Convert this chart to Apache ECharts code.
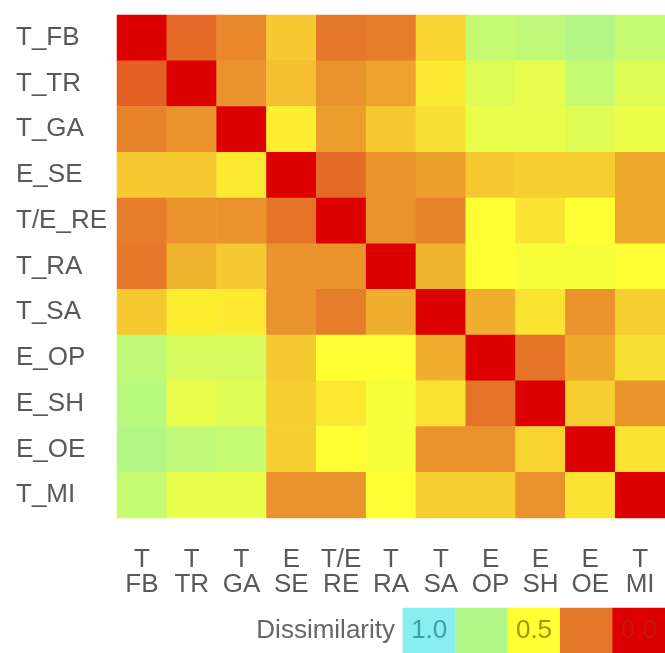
<!DOCTYPE html>
<html>
<head>
<meta charset="utf-8">
<script src="https://cdn.jsdelivr.net/npm/echarts@6/dist/echarts.min.js"></script>
<style>
html,body{margin:0;padding:0;background:#fff;}
#chart{width:665px;height:653px;}
</style>
</head>
<body>
<div id="chart"></div>
<script>
// Row / column categories
const rowLabels = ['T_FB','T_TR','T_GA','E_SE','T/E_RE','T_RA','T_SA','E_OP','E_SH','E_OE','T_MI'];
const colTop    = ['T','T','T','E','T/E','T','T','E','E','E','T'];
const colBottom = ['FB','TR','GA','SE','RE','RA','SA','OP','SH','OE','MI'];

// Dissimilarity values, one array per row (columns FB..MI)
const row_T_FB  = [0.00,0.22,0.28,0.40,0.25,0.26,0.42,0.68,0.70,0.74,0.68];
const row_T_TR  = [0.20,0.00,0.30,0.38,0.30,0.33,0.46,0.60,0.58,0.68,0.60];
const row_T_GA  = [0.27,0.30,0.00,0.47,0.32,0.40,0.44,0.57,0.57,0.60,0.56];
const row_E_SE  = [0.40,0.40,0.46,0.00,0.22,0.30,0.32,0.40,0.41,0.41,0.34];
const row_TE_RE = [0.26,0.30,0.30,0.24,0.00,0.30,0.27,0.50,0.45,0.50,0.34];
const row_T_RA  = [0.25,0.36,0.40,0.30,0.30,0.00,0.36,0.50,0.52,0.52,0.50];
const row_T_SA  = [0.40,0.47,0.46,0.30,0.26,0.35,0.00,0.35,0.45,0.30,0.41];
const row_E_OP  = [0.70,0.63,0.63,0.40,0.50,0.50,0.35,0.00,0.24,0.34,0.44];
const row_E_SH  = [0.72,0.57,0.60,0.41,0.46,0.52,0.45,0.24,0.00,0.41,0.30];
const row_E_OE  = [0.74,0.70,0.68,0.41,0.50,0.52,0.30,0.30,0.42,0.00,0.45];
const row_T_MI  = [0.68,0.57,0.57,0.30,0.30,0.50,0.41,0.41,0.30,0.45,0.00];
const matrixRows = [row_T_FB,row_T_TR,row_T_GA,row_E_SE,row_TE_RE,row_T_RA,row_T_SA,row_E_OP,row_E_SH,row_E_OE,row_T_MI];

// Legend (colour key)
const legendTitle  = 'Dissimilarity';
const legendValues = [1.0, 0.75, 0.5, 0.25, 0.0];
const legendLabels = ['1.0', '', '0.5', '', '0.0'];
const legendLabelColors = ['#3f9ea6', '#000', '#9a9a00', '#000', '#c81414'];

const scaleColors = ['#dd0000', '#e5782a', '#ffff33', '#b0f888', '#88eef0'];

const heatData = [];
matrixRows.forEach((row, y) => row.forEach((v, x) => heatData.push([x, y, v])));

const legendData = legendValues.map((v, i) => ({
  value: [i, 0, v],
  label: { formatter: legendLabels[i], color: legendLabelColors[i] }
}));

const FONT = 'Liberation Sans';
const chart = echarts.init(document.getElementById('chart'));
chart.setOption({
  animation: false,
  backgroundColor: '#fff',
  grid: [
    { left: 117, right: 0, top: 15, bottom: 135 },
    { left: 403, right: 0, top: 608, height: 45 }
  ],
  xAxis: [
    {
      type: 'category', gridIndex: 0,
      data: colBottom.map((b, i) => colTop[i] + '\n' + b),
      axisLine: { show: false }, axisTick: { show: false }, splitLine: { show: false },
      axisLabel: { color: '#595959', fontFamily: FONT, fontSize: 26, lineHeight: 25, margin: 29, interval: 0 }
    },
    {
      type: 'category', gridIndex: 1, data: legendLabels.map((l, i) => 'k' + i),
      axisLine: { show: false }, axisTick: { show: false }, axisLabel: { show: false }, splitLine: { show: false }
    }
  ],
  yAxis: [
    {
      type: 'category', gridIndex: 0, data: rowLabels, inverse: true,
      axisLine: { show: false }, axisTick: { show: false }, splitLine: { show: false },
      axisLabel: { color: '#595959', fontFamily: FONT, fontSize: 26, margin: 101, align: 'left', interval: 0 }
    },
    {
      type: 'category', gridIndex: 1, data: [legendTitle],
      axisLine: { show: false }, axisTick: { show: false }, splitLine: { show: false },
      axisLabel: { color: '#666', fontFamily: FONT, fontSize: 26, margin: 8 }
    }
  ],
  visualMap: [
    { type: 'continuous', show: false, min: 0, max: 1, seriesIndex: 0, inRange: { color: scaleColors } },
    { type: 'continuous', show: false, min: 0, max: 1, seriesIndex: 1, inRange: { color: scaleColors } }
  ],
  series: [
    {
      type: 'heatmap', xAxisIndex: 0, yAxisIndex: 0, data: heatData,
      itemStyle: { borderWidth: 0 }, emphasis: { disabled: true }
    },
    {
      type: 'heatmap', xAxisIndex: 1, yAxisIndex: 1, data: legendData,
      label: { show: true, fontFamily: FONT, fontSize: 26 },
      itemStyle: { borderWidth: 0 }, emphasis: { disabled: true }
    }
  ]
});
</script>
</body>
</html>
